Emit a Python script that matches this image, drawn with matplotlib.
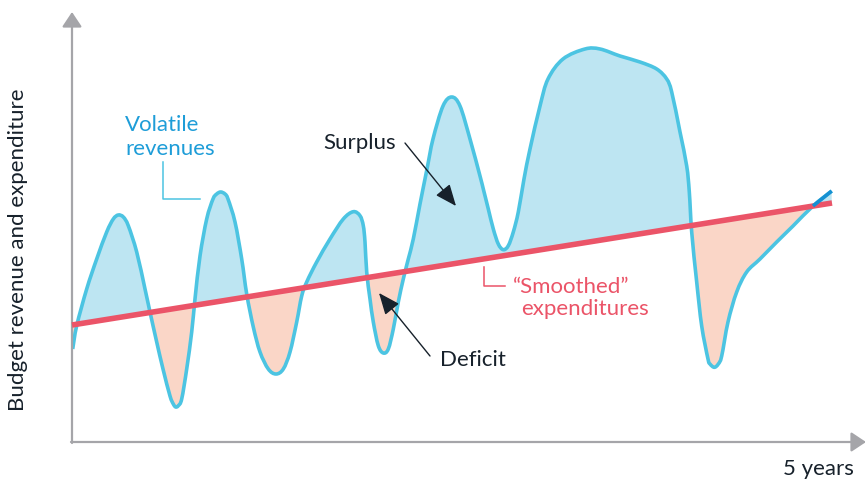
import matplotlib
matplotlib.use("Agg")
import matplotlib.pyplot as plt
from matplotlib.path import Path
from matplotlib.patches import PathPatch, Polygon
import numpy as np

# ---- data (time index along x, budget value along y) ----
rev_t = [0.7, 4.7, 14.7, 24.7, 34.7, 41.3, 46.3, 51.3, 56.3, 64.7, 73, 78, 84.7, 91, 98,
         101.3, 103.7, 106.3, 109.7, 114.7, 119.7, 123, 128, 134.7, 141, 144.7, 148.7, 153,
         156, 163, 169.7, 174.7, 181.3, 188, 196.3, 204, 211.3, 218, 224.7, 229.7,
         234.7, 244.7, 258, 271.3, 281.3, 288, 291.3, 293, 294.7, 298, 301.3, 306.3, 311.3,
         316.3, 321.3, 326.3, 331.3, 336.3, 341.3, 348, 355, 361, 371, 379.7, 388, 398, 408,
         411.3, 416.3, 421.3, 426.3, 431.3, 436.3, 441.3, 446.3, 452, 458, 468, 476, 491, 513,
         528, 548, 568, 584.7, 594.7, 599.7, 608, 614.7, 617.3, 619.7, 624.7, 629.7, 636,
         638, 642.3, 646.3, 649.7, 656, 664.7, 674.7, 688, 704.7, 721, 741, 759.7]
rev_v = [93, 116.3, 153, 183, 210, 223, 227, 225, 216.3, 190, 153, 130, 100, 73, 46,
         38, 35, 36.3, 43, 73, 110, 143, 186, 223, 243, 248, 250, 248,
         243, 220, 183, 148, 115, 90, 73, 68, 73, 90, 120, 146,
         160, 180, 203, 223, 230.3, 226.3, 216.3, 200, 170, 143, 120, 96.3, 89,
         93, 113, 140, 163, 183, 203, 238, 273, 303, 336, 345, 336, 303, 266,
         253, 233, 213, 198, 192.3, 196.3, 210, 230, 263, 293, 336, 363, 383, 393,
         393, 386, 380, 373, 363, 350, 310, 276, 250, 210, 160, 116, 83,
         78, 74.7, 78, 86, 120, 150, 170, 183, 200, 216, 236, 251]
exp_t = [0, 760]
exp_v = [117, 239]

ylabel = "Budget revenue and expenditure"
xlabel = "5 years"

# ---- style ----
GRAY = "#a5a5a9"
BLUE_LINE = "#4cc4e2"
BLUE_FILL = "#bde5f2"
PEACH = "#fad6c7"
RED = "#eb5468"
DARK = "#17212b"
BLUE_TXT = "#1e9dd8"
DARK_BLUE = "#1590d2"
FONT = ["Lato", "DejaVu Sans"]
FS = 16

fig = plt.figure(figsize=(8.65, 4.81), dpi=100)
ax = fig.add_axes([0, 0, 1, 1])
ax.set_xlim(-72, 793)
ax.set_ylim(-38, 443)
ax.axis("off")

pts = np.column_stack([rev_t, rev_v])


def smooth_path_verts(p):
    """Cubic Bezier (Catmull-Rom) segments passing through the read points."""
    verts = [tuple(p[0])]
    codes = [Path.MOVETO]
    for i in range(len(p) - 1):
        p0 = p[max(i - 1, 0)]
        p1 = p[i]
        p2 = p[i + 1]
        p3 = p[min(i + 2, len(p) - 1)]
        c1 = p1 + (p2 - p0) / 6.0
        c2 = p2 - (p3 - p1) / 6.0
        verts += [tuple(c1), tuple(c2), tuple(p2)]
        codes += [Path.CURVE4] * 3
    return verts, codes


cv, cc = smooth_path_verts(pts)
slope = (exp_v[1] - exp_v[0]) / (exp_t[1] - exp_t[0])


def exp_at(x):
    return exp_v[0] + slope * (x - exp_t[0])


# region between revenue curve and expenditure line
region_verts = cv + [(rev_t[-1], exp_at(rev_t[-1])), (rev_t[0], exp_at(rev_t[0])), cv[0]]
region_codes = cc + [Path.LINETO, Path.LINETO, Path.CLOSEPOLY]
region = Path(region_verts, region_codes)

above = Polygon([(-200, exp_at(-200)), (1000, exp_at(1000)), (1000, 2000), (-200, 2000)],
                closed=True, transform=ax.transData)
below = Polygon([(-200, exp_at(-200)), (1000, exp_at(1000)), (1000, -2000), (-200, -2000)],
                closed=True, transform=ax.transData)

p_blue = PathPatch(region, facecolor=BLUE_FILL, edgecolor="none", zorder=1)
ax.add_patch(p_blue)
p_blue.set_clip_path(above)
p_peach = PathPatch(region, facecolor=PEACH, edgecolor="none", zorder=1)
ax.add_patch(p_peach)
p_peach.set_clip_path(below)

line = PathPatch(Path(cv, cc), facecolor="none", edgecolor=BLUE_LINE, lw=2.6,
                 capstyle="butt", joinstyle="round", zorder=3)
ax.add_patch(line)
ax.plot(exp_t, exp_v, color=RED, lw=4.0, solid_capstyle="butt", zorder=4)
ax.plot(rev_t[-2:], rev_v[-2:], color=DARK_BLUE, lw=2.6, solid_capstyle="butt", zorder=5)

# axes with arrows
arrow_kw = dict(arrowstyle="-|>,head_length=0.45,head_width=0.3",
                color=GRAY, lw=1.6, mutation_scale=20, shrinkA=0, shrinkB=0)
ax.annotate("", xy=(0, 430), xytext=(0, -1), arrowprops=arrow_kw, annotation_clip=False)
ax.annotate("", xy=(794, 0), xytext=(-1, 0), arrowprops=arrow_kw, annotation_clip=False)

ax.text(-53.5, 193.5, ylabel, rotation=90, ha="center", va="center",
        fontsize=FS, color=DARK, family=FONT, rotation_mode="anchor")
ax.text(711, -32, xlabel, ha="left", va="baseline", fontsize=FS, color=DARK, family=FONT)

# Volatile revenues label + callout
ax.text(53, 312.3, "Volatile", ha="left", va="baseline", fontsize=FS, color=BLUE_TXT, family=FONT)
ax.text(53, 288, "revenues", ha="left", va="baseline", fontsize=FS, color=BLUE_TXT, family=FONT)
ax.plot([90.7, 90.7, 128], [280, 243, 243], color=BLUE_LINE, lw=1.1, zorder=2)

# Smoothed expenditures label + callout
ax.text(441, 150, "\u201cSmoothed\u201d", ha="left", va="baseline", fontsize=FS, color=RED, family=FONT)
ax.text(449, 127.5, "expenditures", ha="left", va="baseline", fontsize=FS, color=RED, family=FONT)
ax.plot([412, 412, 433], [175, 156, 156], color=RED, lw=1.1, zorder=2)

# Surplus / Deficit
ax.text(251, 293.7, "Surplus", ha="left", va="baseline", fontsize=FS, color=DARK, family=FONT)
ax.annotate("", xy=(384, 236), xytext=(333, 299),
            arrowprops=dict(arrowstyle="-|>,head_length=0.6,head_width=0.25",
                            color=DARK, lw=1.0, mutation_scale=22, shrinkA=0, shrinkB=0), zorder=6)
ax.text(368, 77.3, "Deficit", ha="left", va="baseline", fontsize=FS, color=DARK, family=FONT)
ax.annotate("", xy=(307, 149), xytext=(358, 86),
            arrowprops=dict(arrowstyle="-|>,head_length=0.6,head_width=0.25",
                            color=DARK, lw=1.0, mutation_scale=22, shrinkA=0, shrinkB=0), zorder=6)

fig.savefig("out.png", dpi=100)
